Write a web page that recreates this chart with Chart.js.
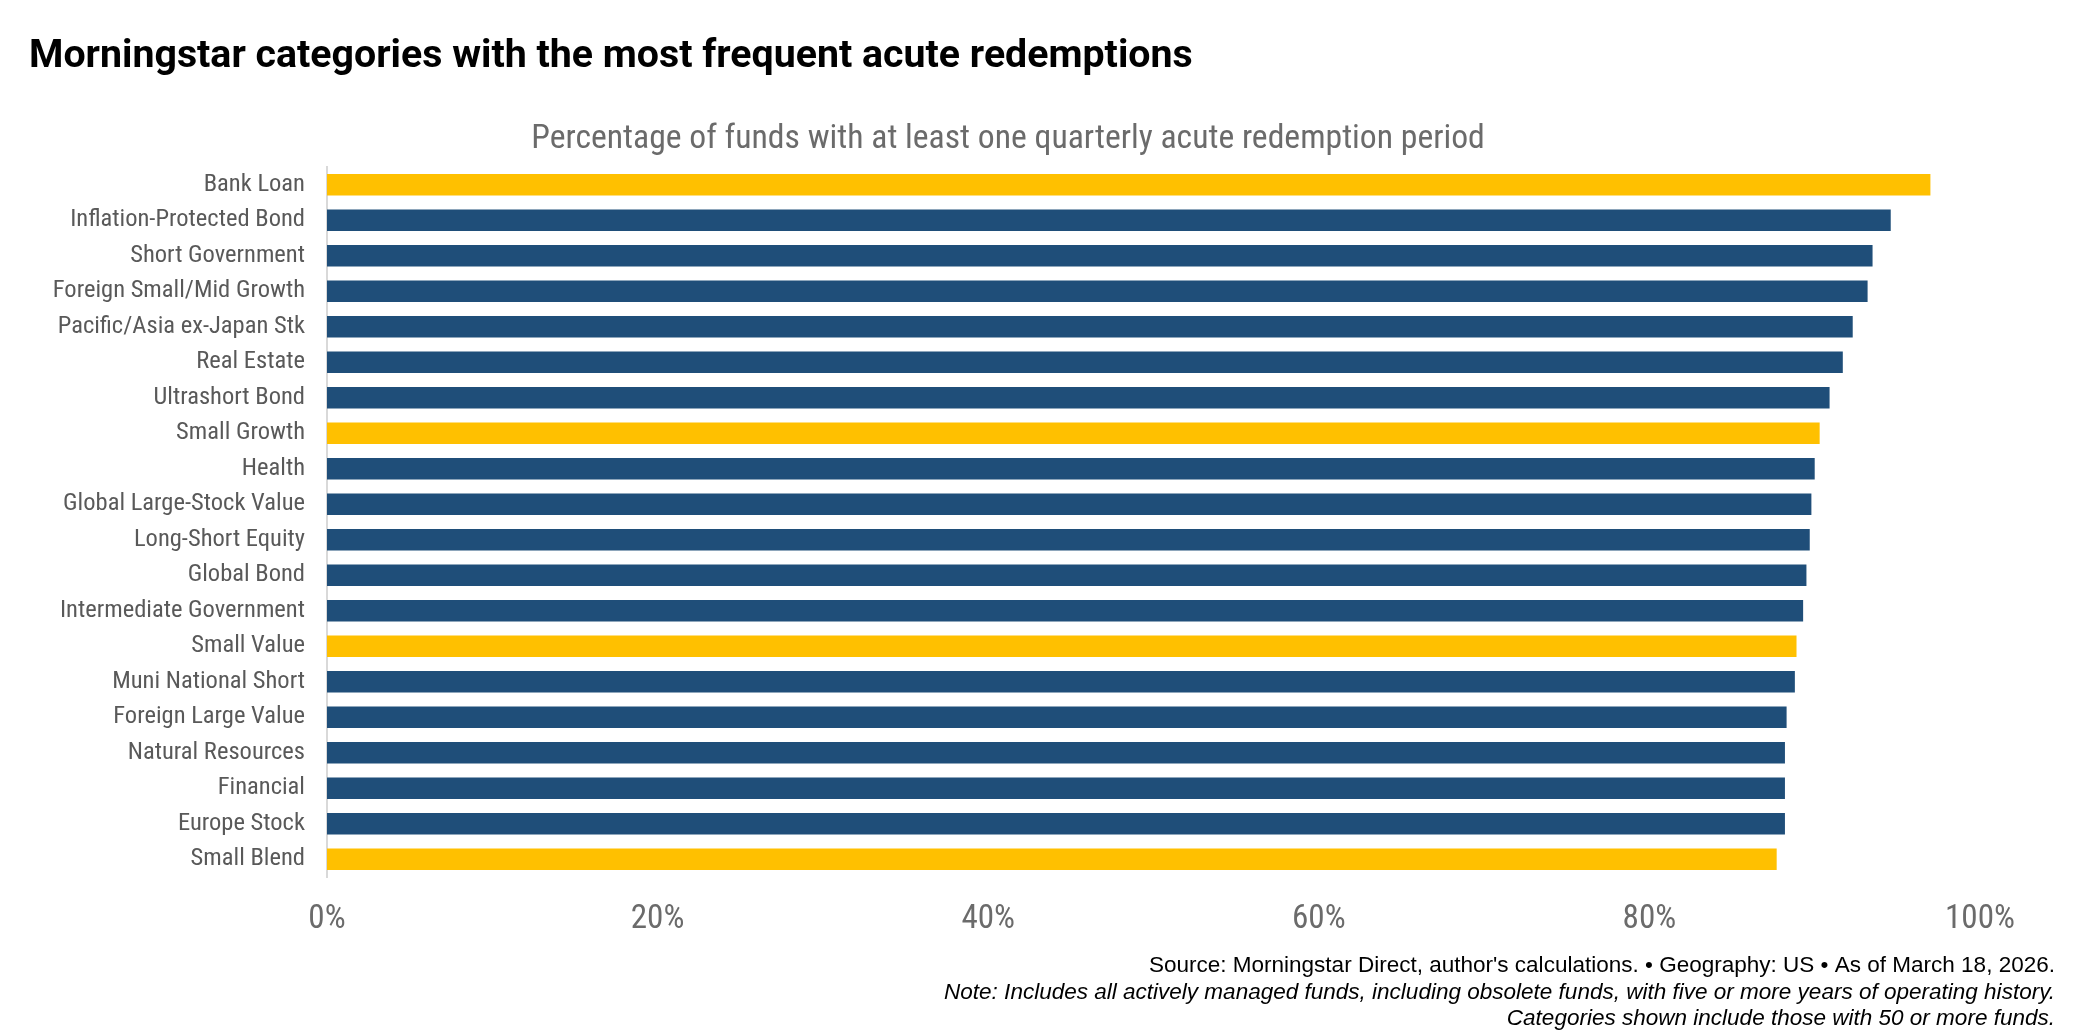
<!DOCTYPE html>
<html>
<head>
<meta charset="utf-8">
<script src="https://cdn.jsdelivr.net/npm/chart.js@4.4.1/dist/chart.umd.min.js"></script>
<style>
  html, body { margin: 0; padding: 0; background: #ffffff; }
  #wrap { width: 2089px; height: 1031px; }
  canvas { display: block; }
</style>
</head>
<body>
<div id="wrap"><canvas id="c" width="2089" height="1031"></canvas></div>
<script>
// ---------- data ----------
const categories = [
  "Bank Loan", "Inflation-Protected Bond", "Short Government", "Foreign Small/Mid Growth",
  "Pacific/Asia ex-Japan Stk", "Real Estate", "Ultrashort Bond", "Small Growth", "Health",
  "Global Large-Stock Value", "Long-Short Equity", "Global Bond", "Intermediate Government",
  "Small Value", "Muni National Short", "Foreign Large Value", "Natural Resources",
  "Financial", "Europe Stock", "Small Blend"
];
const pctFunds = [
  97.0, 94.6, 93.5, 93.2, 92.3, 91.7, 90.9, 90.3, 90.0, 89.8,
  89.7, 89.5, 89.3, 88.9, 88.8, 88.3, 88.2, 88.2, 88.2, 87.7
];
const highlighted = ["Bank Loan", "Small Growth", "Small Value", "Small Blend"];
const xTicks = [0, 20, 40, 60, 80, 100];

const titleText = "Morningstar categories with the most frequent acute redemptions";
const subtitleText = "Percentage of funds with at least one quarterly acute redemption period";
const footerLines = [
  "Source: Morningstar Direct, author's calculations. \u2022 Geography: US \u2022 As of March 18, 2026.",
  "Note: Includes all actively managed funds, including obsolete funds, with five or more years of operating history.",
  "Categories shown include those with 50 or more funds."
];

// ---------- fonts ----------
const mctx = document.createElement('canvas').getContext('2d');
function hasFont(name) {
  const s = 'abcdefghijklmnopqrstuvwxyzABCDEFGHIJ0123456789';
  for (const fb of ['monospace', 'serif']) {
    mctx.font = '40px ' + fb; const a = mctx.measureText(s).width;
    mctx.font = '40px "' + name + '", ' + fb; const b = mctx.measureText(s).width;
    if (Math.abs(a - b) > 0.5) return true;
  }
  return false;
}
let condensed = 'Roboto';
for (const f of ['Roboto Condensed', 'Liberation Sans Narrow', 'DejaVu Sans Condensed', 'Open Sans Condensed']) {
  if (hasFont(f)) { condensed = f; break; }
}
const condFamily = '"' + condensed + '", Roboto, sans-serif';
function fitSize(text, weight, family, nominal, targetWidth, cap) {
  mctx.font = weight + ' ' + nominal + 'px ' + family;
  const w = mctx.measureText(text).width;
  return Math.min(nominal * (cap || 1.15), nominal * targetWidth / w);
}
const titleSize = fitSize(titleText, 'bold', 'Roboto, sans-serif', 32, 1164, 1.4);
const subSize = fitSize(subtitleText, 'normal', condFamily, 32, 954);
const catSize = fitSize("Inflation-Protected Bond", 'normal', condFamily, 22, 235);
const tickSize = fitSize("100%", 'normal', condFamily, 30, 70);
const footSize = fitSize(footerLines[0], 'normal', '"Liberation Sans", Arial, sans-serif', 20, 907);

const NAVY = '#1F4E79';
const GOLD = '#FFC000';

// ---------- text plugin ----------
const textPlugin = {
  id: 'textPlugin',
  afterDraw(chart) {
    const ctx = chart.ctx;
    ctx.save();
    ctx.textBaseline = 'alphabetic';
    ctx.fillStyle = '#000000';
    ctx.textAlign = 'left';
    ctx.font = 'bold ' + titleSize + 'px Roboto, sans-serif';
    ctx.fillText(titleText, 29, 67);

    ctx.fillStyle = '#6b6b6b';
    ctx.textAlign = 'center';
    ctx.font = 'normal ' + subSize + 'px ' + condFamily;
    ctx.fillText(subtitleText, 1008, 148);

    ctx.fillStyle = '#000000';
    ctx.textAlign = 'right';
    const ys = [972, 999, 1025];
    footerLines.forEach((t, i) => {
      ctx.font = (i === 0 ? 'normal ' : 'italic ') + footSize + 'px "Liberation Sans", Arial, sans-serif';
      ctx.fillText(t, 2055, ys[i]);
    });
    ctx.restore();
  }
};

// ---------- chart ----------
new Chart(document.getElementById('c'), {
  type: 'bar',
  data: {
    labels: categories,
    datasets: [{
      data: pctFunds,
      backgroundColor: categories.map(c => highlighted.includes(c) ? GOLD : NAVY),
      borderWidth: 0,
      barPercentage: 0.61,
      categoryPercentage: 1.0
    }]
  },
  options: {
    indexAxis: 'y',
    responsive: false,
    devicePixelRatio: 1,
    animation: false,
    layout: { padding: { top: 167, right: 109, bottom: 100, left: 0 } },
    plugins: {
      legend: { display: false },
      tooltip: { enabled: false },
      title: { display: false }
    },
    scales: {
      x: {
        min: 0, max: 100,
        afterBuildTicks(scale) { scale.ticks = xTicks.map(v => ({ value: v })); },
        afterFit(scale) { scale.height = 54; },
        grid: { display: false, drawTicks: false },
        border: { display: false },
        ticks: {
          padding: 23,
          color: '#6b6b6b',
          font: { family: condFamily, size: tickSize },
          maxRotation: 0,
          callback: v => v + '%'
        }
      },
      y: {
        afterFit(scale) { scale.width = 327; },
        grid: { display: false, drawTicks: false },
        border: { display: true, color: '#d9d9d9', width: 2 },
        ticks: {
          padding: 22,
          color: '#595959',
          font: { family: condFamily, size: catSize },
          autoSkip: false
        }
      }
    }
  },
  plugins: [textPlugin]
});
</script>
</body>
</html>
